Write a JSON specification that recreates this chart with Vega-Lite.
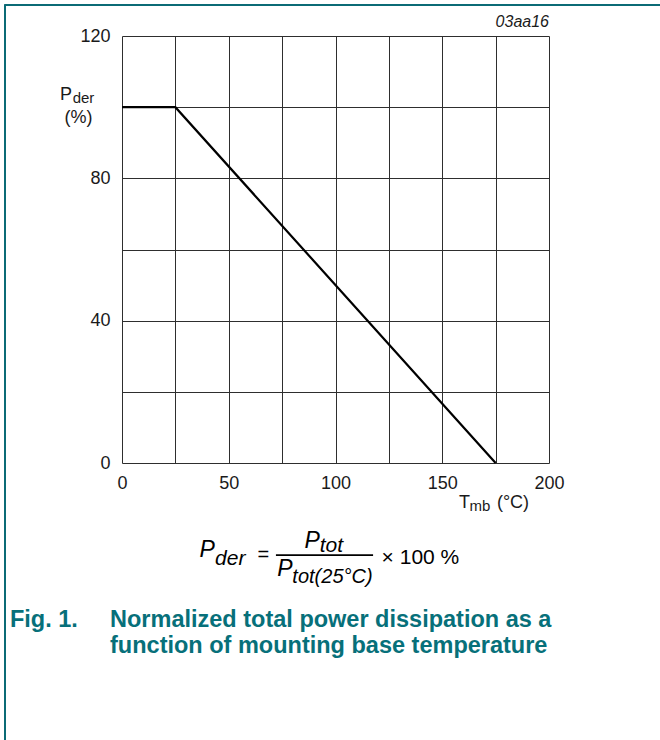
{
  "$schema": "https://vega.github.io/schema/vega-lite/v6.json",
  "width": 427,
  "height": 427,
  "autosize": "none",
  "padding": {"left": 122, "top": 36, "right": 111, "bottom": 277},
  "background": "white",
  "config": {"view": {"stroke": null}, "font": "Liberation Sans"},
  "layer": [
    {
      "data": {"values": [{"T": 0, "P": 100}, {"T": 25, "P": 100}, {"T": 175, "P": 0}]},
      "mark": {"type": "line", "color": "#000000", "strokeWidth": 2.2},
      "encoding": {
        "x": {"field": "T", "type": "quantitative", "scale": {"domain": [0, 200], "nice": false, "zero": false},
          "axis": {"title": null, "values": [0, 25, 50, 75, 100, 125, 150, 175, 200], "labelExpr": "datum.value % 50 === 0 ? datum.label : ''",
            "grid": true, "gridColor": "#2e2e2e", "gridOpacity": 1, "gridWidth": 1, "ticks": false, "tickSize": 0, "domain": false, "labelFlush": false,
            "labelFontSize": 18, "labelColor": "#1a1a1a", "labelPadding": 11, "labelFont": "Liberation Sans"}},
        "y": {"field": "P", "type": "quantitative", "scale": {"domain": [0, 120], "nice": false, "zero": false},
          "axis": {"title": null, "values": [0, 20, 40, 60, 80, 100, 120], "labelExpr": "datum.value % 40 === 0 ? datum.label : ''",
            "grid": true, "gridColor": "#2e2e2e", "gridOpacity": 1, "gridWidth": 1, "ticks": false, "tickSize": 0, "domain": false, "labelFlush": false,
            "labelFontSize": 18, "labelColor": "#1a1a1a", "labelPadding": 12, "labelFont": "Liberation Sans"}}
      }
    },
    {
      "data": {"values": [{}]},
      "mark": {"type": "rule", "color": "#0b6b76", "strokeWidth": 2},
      "encoding": {"x": {"datum": -54.8}, "y": {"datum": 128.7}, "y2": {"datum": -78}}
    },
    {
      "data": {"values": [{}]},
      "mark": {"type": "rule", "color": "#0b6b76", "strokeWidth": 2},
      "encoding": {"x": {"datum": -55.2}, "x2": {"datum": 252}, "y": {"datum": 128.7}}
    },
    {
      "data": {"values": [{}]},
      "mark": {"type": "rule", "color": "#000000", "strokeWidth": 1.8},
      "encoding": {"x": {"datum": 72.1}, "x2": {"datum": 117.6}, "y": {"datum": -25.9}}
    },
    {
      "data": {"values": [{}]},
      "mark": {"type": "text", "align": "right", "baseline": "alphabetic", "fontStyle": "italic", "fontSize": 16, "color": "#1a1a1a"},
      "encoding": {"x": {"datum": 200}, "y": {"datum": 122.6}, "text": {"value": "03aa16"}}
    },
    {
      "data": {"values": [{}]},
      "mark": {"type": "text", "align": "left", "baseline": "alphabetic", "fontSize": 18, "color": "#1a1a1a"},
      "encoding": {"x": {"datum": -29.0}, "y": {"datum": 102.0}, "text": {"value": "P"}}
    },
    {
      "data": {"values": [{}]},
      "mark": {"type": "text", "align": "left", "baseline": "alphabetic", "fontSize": 15, "color": "#1a1a1a"},
      "encoding": {"x": {"datum": -23.1}, "y": {"datum": 101.3}, "text": {"value": "der"}}
    },
    {
      "data": {"values": [{}]},
      "mark": {"type": "text", "align": "center", "baseline": "alphabetic", "fontSize": 18, "color": "#1a1a1a"},
      "encoding": {"x": {"datum": -20.4}, "y": {"datum": 95.6}, "text": {"value": "(%)"}}
    },
    {
      "data": {"values": [{}]},
      "mark": {"type": "text", "align": "left", "baseline": "alphabetic", "fontSize": 18, "color": "#1a1a1a"},
      "encoding": {"x": {"datum": 157.9}, "y": {"datum": -12.6}, "text": {"value": "T"}}
    },
    {
      "data": {"values": [{}]},
      "mark": {"type": "text", "align": "left", "baseline": "alphabetic", "fontSize": 15, "color": "#1a1a1a"},
      "encoding": {"x": {"datum": 162.8}, "y": {"datum": -13.4}, "text": {"value": "mb"}}
    },
    {
      "data": {"values": [{}]},
      "mark": {"type": "text", "align": "left", "baseline": "alphabetic", "fontSize": 18, "color": "#1a1a1a"},
      "encoding": {"x": {"datum": 175.6}, "y": {"datum": -12.6}, "text": {"value": "(°C)"}}
    },
    {
      "data": {"values": [{}]},
      "mark": {"type": "text", "align": "left", "baseline": "alphabetic", "fontStyle": "italic", "fontSize": 23, "color": "#000000"},
      "encoding": {"x": {"datum": 36.3}, "y": {"datum": -26.4}, "text": {"value": "P"}}
    },
    {
      "data": {"values": [{}]},
      "mark": {"type": "text", "align": "left", "baseline": "alphabetic", "fontStyle": "italic", "fontSize": 21, "color": "#000000"},
      "encoding": {"x": {"datum": 43.6}, "y": {"datum": -28.7}, "text": {"value": "der"}}
    },
    {
      "data": {"values": [{}]},
      "mark": {"type": "text", "align": "left", "baseline": "alphabetic", "fontSize": 20, "color": "#000000"},
      "encoding": {"x": {"datum": 63.5}, "y": {"datum": -27.6}, "text": {"value": "="}}
    },
    {
      "data": {"values": [{}]},
      "mark": {"type": "text", "align": "left", "baseline": "alphabetic", "fontStyle": "italic", "fontSize": 23, "color": "#000000"},
      "encoding": {"x": {"datum": 85.5}, "y": {"datum": -23.9}, "text": {"value": "P"}}
    },
    {
      "data": {"values": [{}]},
      "mark": {"type": "text", "align": "left", "baseline": "alphabetic", "fontStyle": "italic", "fontSize": 21, "color": "#000000"},
      "encoding": {"x": {"datum": 92.6}, "y": {"datum": -25.0}, "text": {"value": "tot"}}
    },
    {
      "data": {"values": [{}]},
      "mark": {"type": "text", "align": "left", "baseline": "alphabetic", "fontStyle": "italic", "fontSize": 23, "color": "#000000"},
      "encoding": {"x": {"datum": 72.7}, "y": {"datum": -31.8}, "text": {"value": "P"}}
    },
    {
      "data": {"values": [{}]},
      "mark": {"type": "text", "align": "left", "baseline": "alphabetic", "fontStyle": "italic", "fontSize": 20, "color": "#000000"},
      "encoding": {"x": {"datum": 79.8}, "y": {"datum": -33.7}, "text": {"value": "tot(25°C)"}}
    },
    {
      "data": {"values": [{}]},
      "mark": {"type": "text", "align": "left", "baseline": "alphabetic", "fontSize": 21, "color": "#000000"},
      "encoding": {"x": {"datum": 121.6}, "y": {"datum": -28.4}, "text": {"value": "× 100 %"}}
    },
    {
      "data": {"values": [{}]},
      "mark": {"type": "text", "align": "left", "baseline": "alphabetic", "fontSize": 23.5, "fontWeight": "bold", "color": "#07707a"},
      "encoding": {"x": {"datum": -52.5}, "y": {"datum": -46.1}, "text": {"value": "Fig. 1."}}
    },
    {
      "data": {"values": [{}]},
      "mark": {"type": "text", "align": "left", "baseline": "alphabetic", "fontSize": 23.5, "fontWeight": "bold", "color": "#07707a"},
      "encoding": {"x": {"datum": -5.6}, "y": {"datum": -46.1}, "text": {"value": "Normalized total power dissipation as a"}}
    },
    {
      "data": {"values": [{}]},
      "mark": {"type": "text", "align": "left", "baseline": "alphabetic", "fontSize": 23.5, "fontWeight": "bold", "color": "#07707a"},
      "encoding": {"x": {"datum": -5.6}, "y": {"datum": -53.4}, "text": {"value": "function of mounting base temperature"}}
    }
  ]
}
